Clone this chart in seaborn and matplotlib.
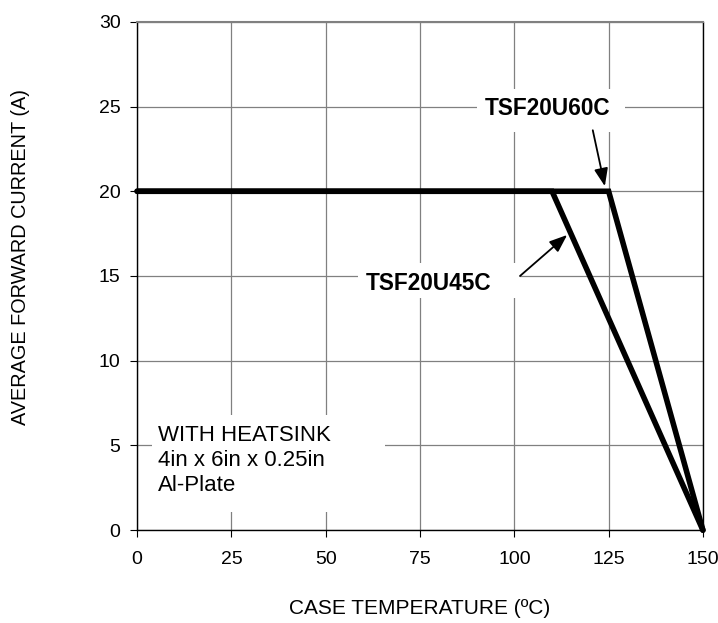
import matplotlib
matplotlib.use("Agg")
import matplotlib.pyplot as plt
from matplotlib.patches import Rectangle
import seaborn as sns
import pandas as pd

# Data
temp_60 = [0, 125, 150]
curr_60 = [20, 20, 0]
temp_45 = [0, 110, 150]
curr_45 = [20, 20, 0]
x_ticks = [0, 25, 50, 75, 100, 125, 150]
y_ticks = [0, 5, 10, 15, 20, 25, 30]

sns.set_theme(style="white")
plt.rcParams['font.family'] = ['Liberation Sans', 'DejaVu Sans']
plt.rcParams['text.color'] = 'black'

df = pd.concat([
    pd.DataFrame({"T": temp_60, "I": curr_60, "part": "TSF20U60C"}),
    pd.DataFrame({"T": temp_45, "I": curr_45, "part": "TSF20U45C"}),
])

fig = plt.figure(figsize=(7.18, 6.23), dpi=100)
ax = fig.add_axes([0.191, 0.149, 0.788, 0.816])

sns.lineplot(data=df, x="T", y="I", hue="part", palette=["black", "black"],
             linewidth=4.0, legend=False, ax=ax, sort=False, zorder=3,
             solid_joinstyle="miter", clip_on=False)

ax.set_xlim(0, 150)
ax.set_ylim(0, 30)
ax.set_xticks(x_ticks)
ax.set_yticks(y_ticks)
ax.tick_params(axis="both", labelsize=14, colors="black", direction="out",
               length=5, width=0.8, left=True, bottom=True)
ax.tick_params(axis="y", pad=7)
ax.tick_params(axis="x", pad=10)
ax.grid(True, color="#808080", linewidth=0.9)
for s in ["left", "bottom", "right"]:
    ax.spines[s].set_color("black")
    ax.spines[s].set_linewidth(1.0)
ax.spines["top"].set_color("#808080")
ax.spines["top"].set_linewidth(1.5)

ax.set_xlabel("CASE TEMPERATURE (\u00baC)", fontsize=15, color="black")
ax.set_ylabel("AVERAGE FORWARD CURRENT (A)", fontsize=14.3, color="black")
ax.xaxis.set_label_coords(0.5, -0.136)
ax.yaxis.set_label_coords(-0.189, 0.537)

# white label boxes (cover the grid)
for (x0, x1, y0, y1) in [(90.1, 129.3, 23.5, 26.05),
                         (58.6, 101.5, 13.7, 15.77),
                         (4.0, 65.7, 1.06, 6.8)]:
    ax.add_patch(Rectangle((x0, y0), x1 - x0, y1 - y0, facecolor="white",
                           edgecolor="none", zorder=2))

ax.text(108.7, 24.87, "TSF20U60C", fontsize=16.3, fontweight="bold",
        ha="center", va="center", zorder=4)
ax.annotate("", xy=(124.0, 20.3), xytext=(120.8, 23.6), zorder=4,
            arrowprops=dict(arrowstyle="-|>,head_length=0.9,head_width=0.35",
                            color="black", lw=1.3, shrinkA=0, shrinkB=0))

ax.text(77.3, 14.53, "TSF20U45C", fontsize=16.3, fontweight="bold",
        ha="center", va="center", zorder=4)
ax.annotate("", xy=(114.0, 17.42), xytext=(101.5, 15.0), zorder=4,
            arrowprops=dict(arrowstyle="-|>,head_length=0.9,head_width=0.35",
                            color="black", lw=1.3, shrinkA=0, shrinkB=0))

ax.text(5.56, 4.13, "WITH HEATSINK\n4in x 6in x 0.25in\nAl-Plate", fontsize=16,
        ha="left", va="center", linespacing=1.24, zorder=4)

fig.savefig("out.png", dpi=100, facecolor="white")
